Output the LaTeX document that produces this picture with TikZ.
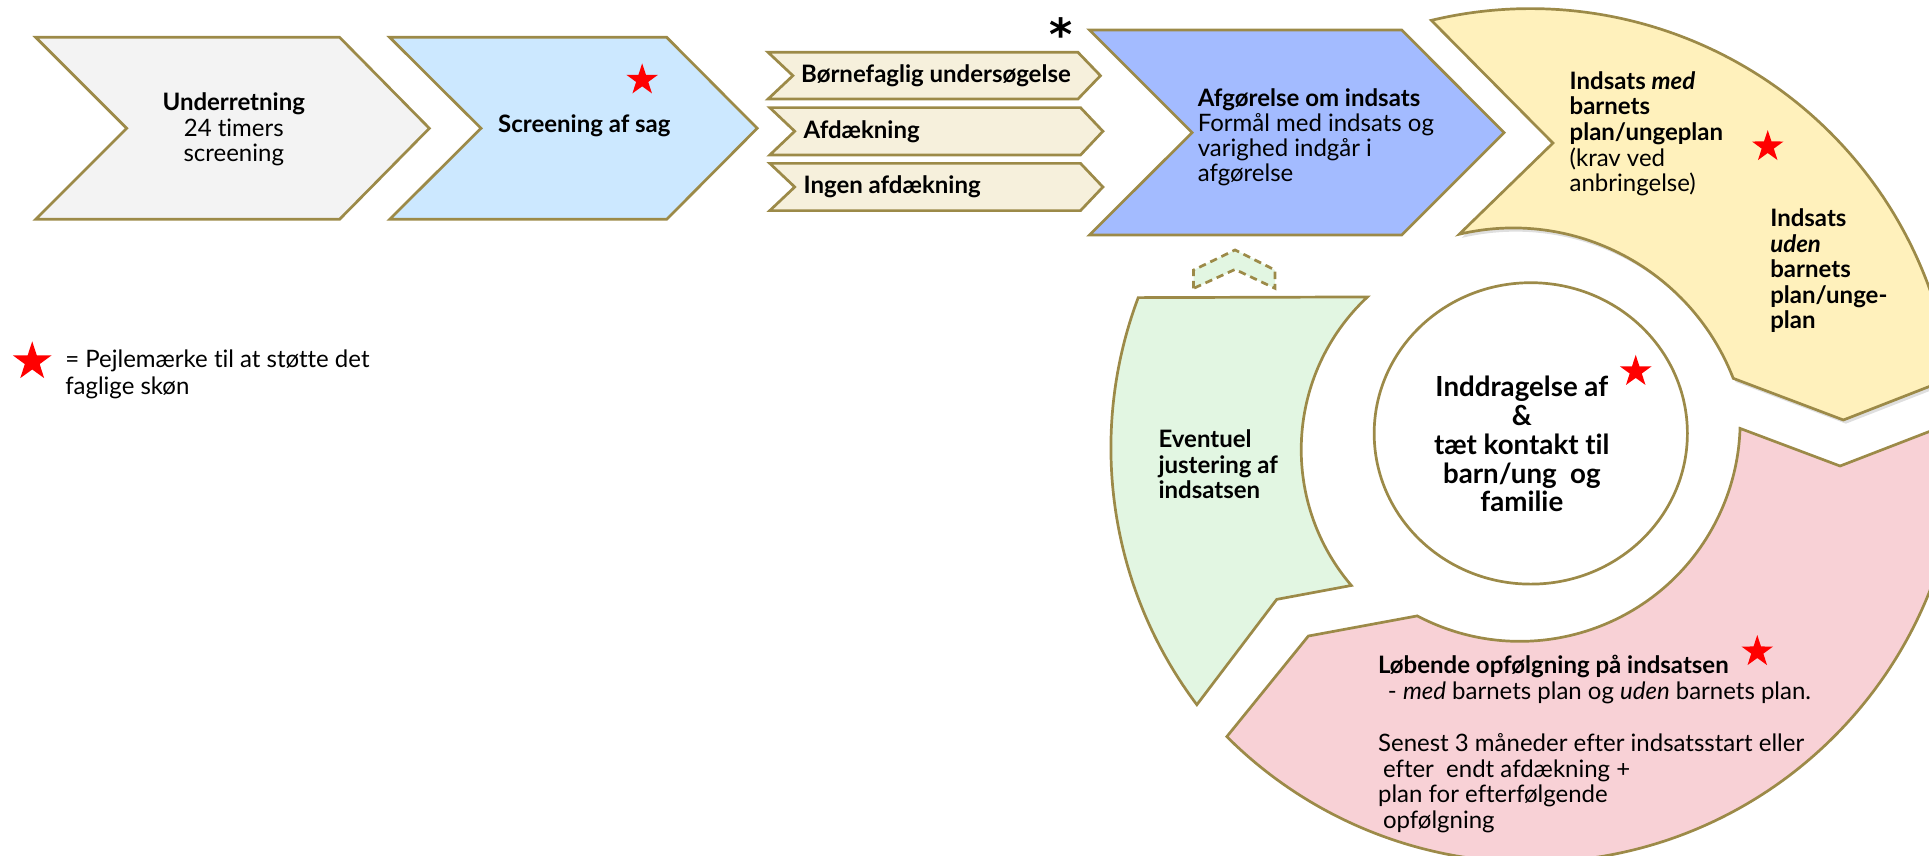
\documentclass[tikz,border=0pt]{standalone}
\usepackage{fontspec}
\setmainfont{Lato}[Ligatures=NoCommon]
\newfontfamily\astfont{DejaVu Sans}
\usetikzlibrary{calc,shapes.geometric,shadows}

\definecolor{rim}{HTML}{9C8A48}
\definecolor{greyfill}{HTML}{F3F3F3}
\definecolor{skyfill}{HTML}{CCE8FF}
\definecolor{creamfill}{HTML}{F6F0DC}
\definecolor{bluefill}{HTML}{A3BBFF}
\definecolor{yellowfill}{HTML}{FFF1BC}
\definecolor{pinkfill}{HTML}{F8D1D6}
\definecolor{greenfill}{HTML}{E2F6E2}

\begin{document}
\begin{tikzpicture}[x=1pt, y=1pt,
    piece/.style={draw=rim, line width=2.2pt, line join=miter},
    txt/.style={inner sep=0pt, text=black, font=\fontsize{19.5}{20.7}\selectfont},
    leftblock/.style={txt, anchor=west, align=left},
    midblock/.style={txt, align=center},
    redstar/.style={star, star points=5, star point ratio=2.6, fill=red, draw=none,
        inner sep=0pt, minimum size=27pt}
]
\useasboundingbox (0,0) rectangle (1568,-695);
\clip (0,0) rectangle (1568,-695);

% centres of the ring pieces
\coordinate (ring) at (1244,-352);
\coordinate (yin) at (1230,-377.3);
\coordinate (gout) at (1250,-364);
\coordinate (gin) at (1227.7,-365.5);
\coordinate (pin) at (1235.5,-342.3);

% arrows along the top
\draw[piece, fill=greyfill] (29,-30.3) -- (276,-30.3) -- (349,-104.3) -- (276,-178.3)
    -- (29,-178.3) -- (103,-104.3) -- cycle;
\draw[piece, fill=skyfill] (316.7,-30.3) -- (541.9,-30.3) -- (615.5,-104.3) -- (541.9,-178.3)
    -- (316.7,-178.3) -- (391,-104.3) -- cycle;
\draw[piece, fill=creamfill] (624.3,-42.5) -- (876.2,-42.5) -- (894.5,-61.5) -- (876.2,-80.5)
    -- (624.3,-80.5) -- (644.5,-61.5) -- cycle;
\draw[piece, fill=creamfill] (625.7,-87.5) -- (878.3,-87.5) -- (896.5,-106.7) -- (878.3,-126)
    -- (625.7,-126) -- (646,-106.7) -- cycle;
\draw[piece, fill=creamfill] (625.7,-132.8) -- (878.3,-132.8) -- (896.5,-152) -- (878.3,-171.2)
    -- (625.7,-171.2) -- (646,-152) -- cycle;
\draw[piece, fill=bluefill] (885.6,-24.4) -- (1139.4,-24.4) -- (1222.6,-107.8) -- (1139.4,-191)
    -- (885.6,-191) -- (969,-107.8) -- cycle;

% the ring
\draw[piece, fill=yellowfill, drop shadow={shadow xshift=2pt, shadow yshift=-3pt, opacity=0.25}]
    ($(ring)+(103.5:345)$) arc[start angle=103.5, end angle=7.46, radius=345]
    -- (1498.4,-341.4) -- ($(yin)+(21.3:192)$)
    arc[start angle=21.3, end angle=103.2, radius=192]
    -- (1262.3,-116.3) -- cycle;
\draw[piece, fill=pinkfill]
    ($(ring)+(225:349)$) -- (1063.5,-517) -- ($(pin)+(242.2:179)$)
    arc[start angle=242.2, end angle=358.1, radius=179]
    -- (1495.7,-378.8) -- ($(ring)+(1.76:349)$)
    arc[start angle=1.76, end angle=-135, radius=349] -- cycle;
\draw[piece, fill=greenfill]
    ($(gout)+(159.4:347)$) -- ($(gin)+(133.1:170)$)
    arc[start angle=133.1, end angle=220.5, radius=170]
    -- (1037.8,-487.2) -- ($(gout)+(217:347)$)
    arc[start angle=217, end angle=159.4, radius=347] -- cycle;
\draw[piece, dash pattern=on 6pt off 4pt, fill=greenfill] (970.2,-234.4) -- (970.2,-219.5)
    -- (1003.9,-203.2) -- (1036.4,-219.5) -- (1036.4,-234.4) -- (1003.9,-219) -- cycle;
\node[ellipse, draw=rim, line width=2.2pt, fill=white, inner sep=0pt,
    minimum width=254.6pt, minimum height=245pt] (kerne) at (1244.3,-352.3) {};

% texts
\node[midblock] (underretning) at (190,-105.4) {\textbf{Underretning}\\24 timers\\screening};
\node[midblock] (screening) at (475,-102.4) {\textbf{Screening af sag}};
\node[leftblock] (bfu) at (651,-61.5) {\textbf{Børnefaglig undersøgelse}};
\node[leftblock] (afd) at (653,-106.7) {\textbf{Afdækning}};
\node[leftblock] (ingen) at (653,-152) {\textbf{Ingen afdækning}};
\node[leftblock, font=\fontsize{19.5}{20.5}\selectfont] (afgoer) at (973.4,-111.5)
    {\textbf{Afgørelse om indsats}\\Formål med indsats og\\varighed indgår i\\afgørelse};
\node[inner sep=0pt, anchor=north, font=\fontsize{36}{36}\astfont\bfseries] (ast)
    at (862.3,-14) {*};
\node[leftblock, font=\fontsize{19.5}{20.8}\selectfont] (medplan) at (1275.7,-108.8)
    {\textbf{Indsats \textit{med}}\\\textbf{barnets}\\\textbf{plan/ungeplan}\\(krav ved\\anbringelse)};
\node[leftblock, font=\fontsize{19.5}{20.7}\bfseries\selectfont] (udenplan) at (1438.8,-220.2)
    {Indsats\\\textit{uden}\\barnets\\plan/unge-\\plan};
\node[midblock, font=\fontsize{22.5}{23.4}\bfseries\selectfont] (kernetekst) at (1237,-361)
    {Inddragelse af\\\&\\tæt kontakt til\\barn/ung\ \ og\\familie};
\node[leftblock, font=\fontsize{19.5}{20.7}\bfseries\selectfont] (justering) at (941.5,-377.6)
    {Eventuel\\justering af\\indsatsen};
\node[leftblock, font=\fontsize{19.5}{21}\selectfont] (opfoelg) at (1120,-605)
    {\textbf{Løbende opfølgning på indsatsen}\\
     \hspace*{8pt}- \textit{med} barnets plan og \textit{uden} barnets plan.\\
     \mbox{}\\
     Senest 3 måneder efter indsatsstart eller\\
     \hspace*{4pt}efter\ \ endt afdækning +\\
     plan for efterfølgende\\
     \hspace*{4pt}opfølgning};

% stars
\node[redstar] (s1) at (522,-65) {};
\node[redstar] (s2) at (1436.9,-119.2) {};
\node[redstar] (s3) at (1329.6,-302) {};
\node[redstar] (s4) at (1428.4,-529.7) {};
\node[redstar, minimum size=33pt] (s5) at (26.2,-294) {};
\node[leftblock, font=\fontsize{19.5}{22.5}\selectfont] (legend) at (52.9,-304.2)
    {= Pejlemærke til at støtte det\\faglige skøn};
\end{tikzpicture}
\end{document}
